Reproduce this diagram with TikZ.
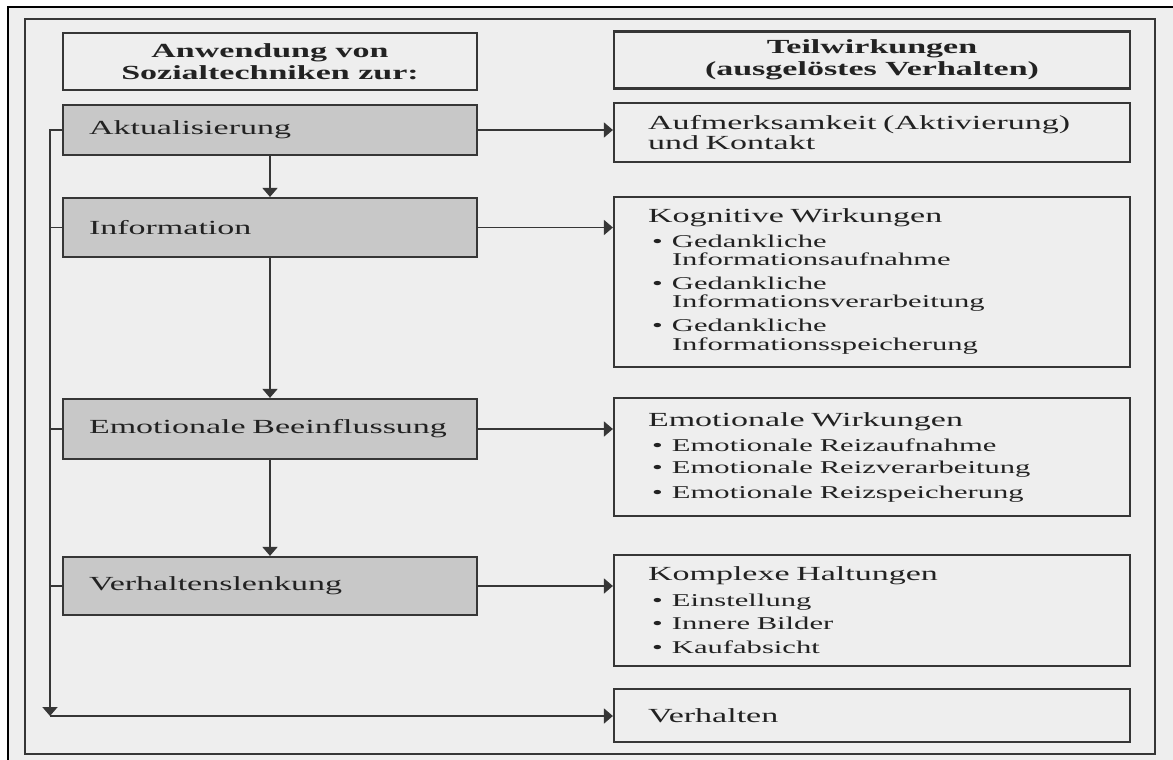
\documentclass[tikz,border=0pt]{standalone}
\usepackage{fontspec}
\setmainfont[FakeStretch=1.7]{Liberation Serif}
\usetikzlibrary{arrows.meta}
\definecolor{papier}{HTML}{EEEEEE}
\definecolor{trait}{HTML}{363636}
\definecolor{fond}{HTML}{C8C8C8}
\definecolor{encre}{HTML}{222222}
\newcommand{\petit}{\fontsize{9}{11.5}\selectfont}
\newcommand{\puce}{\makebox[12pt][l]{\hspace{2pt}\textbullet}}
\newcommand{\suite}{\hspace*{12pt}}

\begin{document}
\begin{tikzpicture}[x=0.5pt,y=-0.5pt,
    font=\fontsize{10}{12}\selectfont, text=encre,
    kasten/.style={draw=trait, line width=1.1pt},
    links/.style={kasten, fill=fond, text width=181pt, inner xsep=13pt, align=left},
    rechts/.style={kasten, text width=224pt, inner xsep=17pt, align=left},
    kopf/.style={kasten, font=\fontsize{10}{11}\selectfont\bfseries, align=center, minimum height=28.5pt},
    linie/.style={draw=trait, line width=0.9pt},
    pfeil/.style={linie, -{Triangle[length=4.5pt,width=7.5pt]}}
]
\useasboundingbox (0,0) rectangle (1173,760);

%page et cadres

\fill[white] (0,0) rectangle (1173,760);
\fill[papier] (8,7) rectangle (1173,760);
\draw[black, line width=1.3pt] (8,760) -- (8,7) -- (1173,7);
\draw[trait, line width=1.1pt] (25,19) rectangle (1155,754);

%colonne de gauche

\node[kopf, minimum width=207pt] (anw) at (270,61.5) {Anwendung von\\Sozialtechniken zur:};
\node[links, minimum height=25pt] (akt) at (270,130) {Aktualisierung};
\node[links, minimum height=29.5pt] (info) at (270,227.5) {Information};
\node[links, minimum height=30pt] (emo) at (270,429) {Emotionale Beeinflussung};
\node[links, minimum height=29pt] (lenk) at (270,586) {Verhaltenslenkung};

%colonne de droite

\node[kopf, minimum width=258pt] (teil) at (872,60) {Teilwirkungen\\(ausgelöstes Verhalten)};
\node[rechts, minimum height=29.5pt] (aufm) at (872,132.5) {Aufmerksamkeit (Aktivierung)\\[-2pt]und Kontakt};
\node[rechts, minimum height=85pt] (kogn) at (872,282) {
    Kognitive Wirkungen\\[1pt]
    \petit\puce Gedankliche\\[-2.5pt]
    \suite Informationsaufnahme\\[0.5pt]
    \puce Gedankliche\\[-2.5pt]
    \suite Informationsverarbeitung\\[0.5pt]
    \puce Gedankliche\\[-2.5pt]
    \suite Informationsspeicherung
};
\node[rechts, minimum height=59pt] (emow) at (872,457) {
    Emotionale Wirkungen\\[1pt]
    \petit\puce Emotionale Reizaufnahme\\
    \puce Emotionale Reizverarbeitung\\
    \puce Emotionale Reizspeicherung
};
\node[rechts, minimum height=55.5pt] (kompl) at (872,610.5) {
    Komplexe Haltungen\\[1.5pt]
    \petit\puce Einstellung\\
    \puce Innere Bilder\\
    \puce Kaufabsicht
};
\node[rechts, minimum height=26.5pt] (verh) at (872,715.5) {Verhalten};

%flèches

\draw[pfeil] (akt) -- (info);
\draw[pfeil] (info) -- (emo);
\draw[pfeil] (emo) -- (lenk);
\draw[pfeil] (akt.east) -- (akt.east -| aufm.west);
\draw[pfeil] (info.east) -- (info.east -| kogn.west);
\draw[pfeil] (emo.east) -- (emo.east -| emow.west);
\draw[pfeil] (lenk.east) -- (lenk.east -| kompl.west);

%retour vers Verhalten

\coordinate (ecke) at (50,716);
\draw[pfeil] (akt.west) -- (akt.west -| ecke) -- (ecke);
\foreach \n in {info,emo,lenk}
    \draw[linie] (\n.west) -- (\n.west -| ecke);
\draw[pfeil] (ecke) -- (ecke -| verh.west);
\end{tikzpicture}
\end{document}
